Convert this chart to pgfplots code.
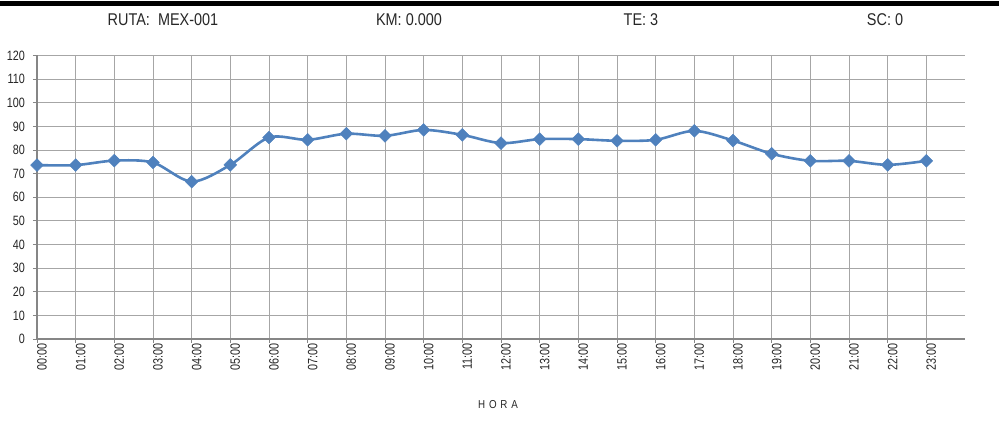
\documentclass[border=0pt]{standalone}
\usepackage{pgfplots}
\pgfplotsset{compat=1.18}
\usepackage{fontspec}
\setmainfont{Liberation Sans}[FakeStretch=0.85]
\newfontfamily\tickfont{Liberation Sans}[FakeStretch=0.8]
\definecolor{ser}{HTML}{4F81BD}
\definecolor{gridc}{HTML}{A6A6A6}
\definecolor{axc}{HTML}{868686}
\definecolor{txt}{HTML}{262626}
\begin{document}
\begin{tikzpicture}
\useasboundingbox (0pt,0pt) rectangle (999pt,430pt);
\fill[black] (0pt,424pt) rectangle (999pt,428.5pt);
\begin{scope}[every node/.style={anchor=base, text=txt, font=\fontsize{17}{20}\selectfont}]
\node at (163pt,404pt) {RUTA:\ \ MEX-001};
\node at (409pt,404pt) {KM:\ 0.000};
\node at (641pt,404pt) {TE:\ 3};
\node at (885pt,404pt) {SC:\ 0};
\end{scope}
\node[text=txt, font=\fontsize{11.5}{13}\selectfont] at (498pt,25pt) {H\,\,O\,\,R\,\,A};
\begin{axis}[
  at={(37pt,91pt)}, anchor=south west,
  scale only axis, width=928pt, height=283.5pt,
  xmin=0, xmax=24, ymin=0, ymax=120,
  xtick={0,...,23},
  xticklabels={00:00,01:00,02:00,03:00,04:00,05:00,06:00,07:00,08:00,09:00,10:00,11:00,12:00,13:00,14:00,15:00,16:00,17:00,18:00,19:00,20:00,21:00,22:00,23:00},
  ytick={0,10,...,120},
  axis x line*=bottom, axis y line*=left,
  axis line style={draw=axc, line width=1.3pt},
  tick align=outside, major tick length=4pt,
  tick style={draw=axc, line width=0.8pt},
  grid=major,
  major grid style={draw=gridc, line width=0.9pt},
  /pgf/number format/assume math mode=true,
  ticklabel style={text=txt, font=\tickfont\fontsize{13.5}{15}\selectfont},
  xticklabel style={rotate=90, anchor=east, inner sep=0pt, xshift=0pt, yshift=-5pt},
  yticklabel style={anchor=east, inner sep=0pt, xshift=-8pt},
]
\addplot[color=ser, line width=2.6pt, smooth, tension=0.5, mark=square*,
  mark size=4.5pt, mark options={rotate=45, fill=ser, draw=ser, line width=0.5pt}]
coordinates {
(0,73.6) (1,73.6) (2,75.5) (3,74.7) (4,66.6) (5,73.7) (6,85.3) (7,84.3)
(8,86.9) (9,86.0) (10,88.5) (11,86.4) (12,82.9) (13,84.6) (14,84.6) (15,83.9)
(16,84.3) (17,88.1) (18,84.0) (19,78.4) (20,75.4) (21,75.4) (22,73.7) (23,75.4)
};
\end{axis}
\end{tikzpicture}
\end{document}
